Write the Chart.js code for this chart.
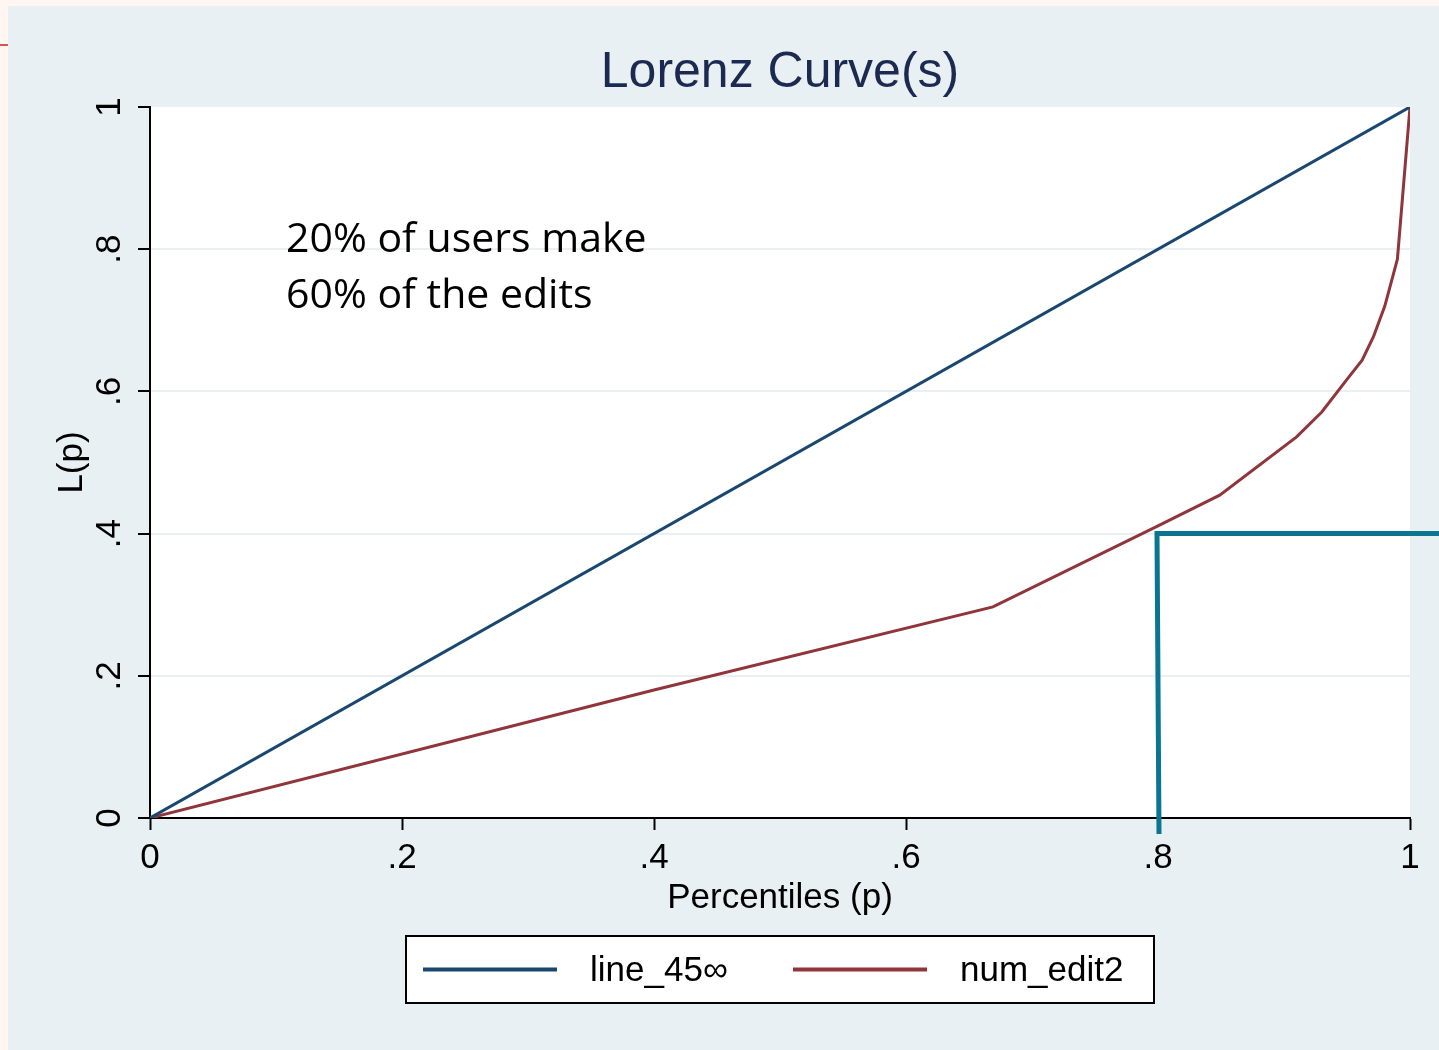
<!DOCTYPE html>
<html>
<head>
<meta charset="utf-8">
<title>Lorenz Curve(s)</title>
<script src="https://cdn.jsdelivr.net/npm/chart.js@4"></script>
<style>
  html, body { margin: 0; padding: 0; background: #fff6f2; }
  canvas { display: block; }
</style>
</head>
<body>
<canvas id="lorenzChart" width="1439" height="1050"></canvas>
<script>
// Data
const equalityP = [0, 1];
const equalityL = [0, 1];
const editsP = [0, 0.4, 0.669, 0.8, 0.849, 0.91, 0.93, 0.95, 0.962, 0.971, 0.98, 0.99, 1];
const editsL = [0, 0.18, 0.297, 0.411, 0.454, 0.536, 0.571, 0.617, 0.644, 0.677, 0.72, 0.786, 1];

const tickValues = [0, 0.2, 0.4, 0.6, 0.8, 1];
const tickLabels = ['0', '.2', '.4', '.6', '.8', '1'];

const seriesNames = ['line_45\u221E', 'num_edit2'];
const noteLines = ['20% of users make', '60% of the edits'];
const bracketP = 0.8;
const bracketL = 0.4;

const SANS = '"Liberation Sans", Arial, Helvetica, sans-serif';

function toPoints(xs, ys) {
    return xs.map((x, i) => ({ x: x, y: ys[i] }));
}

// Background, titles, rotated tick labels, note, bracket and legend box
const stataLook = {
    id: 'stataLook',
    beforeDraw(chart) {
        const ctx = chart.ctx;
        const area = chart.chartArea;
        ctx.save();
        ctx.fillStyle = '#fff6f2';
        ctx.fillRect(0, 0, chart.width, chart.height);
        ctx.fillStyle = '#e8f0f3';
        ctx.fillRect(8, 6, chart.width - 8, chart.height - 6);
        ctx.fillStyle = '#d9534f';
        ctx.fillRect(0, 44, 8, 2);
        ctx.fillStyle = '#ffffff';
        ctx.fillRect(area.left, area.top, area.right - area.left, area.bottom - area.top);
        ctx.restore();
    },
    afterDraw(chart) {
        const ctx = chart.ctx;
        const area = chart.chartArea;
        const xs = chart.scales.x;
        const ys = chart.scales.y;
        const midX = (area.left + area.right) / 2;
        const midY = (area.top + area.bottom) / 2;

        ctx.save();

        // title
        ctx.fillStyle = '#1c2a52';
        ctx.font = '50px ' + SANS;
        ctx.textAlign = 'center';
        ctx.textBaseline = 'middle';
        ctx.fillText('Lorenz Curve(s)', midX, 73);

        // tick labels
        ctx.fillStyle = '#000000';
        ctx.font = '35px ' + SANS;
        tickValues.forEach((v, i) => {
            ctx.fillText(tickLabels[i], xs.getPixelForValue(v), area.bottom + 40);

            ctx.save();
            ctx.translate(area.left - 40, ys.getPixelForValue(v));
            ctx.rotate(-Math.PI / 2);
            ctx.fillText(tickLabels[i], 0, 0);
            ctx.restore();
        });

        // axis titles
        ctx.fillText('Percentiles (p)', midX, area.bottom + 80);
        ctx.save();
        ctx.translate(72, midY);
        ctx.rotate(-Math.PI / 2);
        ctx.fillText('L(p)', 0, 0);
        ctx.restore();

        // note
        ctx.font = '41px "Open Sans", Lato, sans-serif';
        ctx.textAlign = 'left';
        ctx.textBaseline = 'alphabetic';
        ctx.fillText(noteLines[0], area.left + 136, 252);
        ctx.fillText(noteLines[1], area.left + 136, 308);

        // bracket at (.8, .4)
        const bx = xs.getPixelForValue(bracketP);
        const by = ys.getPixelForValue(bracketL);
        ctx.strokeStyle = '#0b7590';
        ctx.lineWidth = 5;
        ctx.lineJoin = 'miter';
        ctx.beginPath();
        ctx.moveTo(bx + 1, area.bottom + 16);
        ctx.lineTo(bx - 1, by);
        ctx.lineTo(chart.width, by);
        ctx.stroke();

        // legend box
        const lx = 406, ly = 936, lw = 748, lh = 67;
        ctx.fillStyle = '#ffffff';
        ctx.fillRect(lx, ly, lw, lh);
        ctx.strokeStyle = '#000000';
        ctx.lineWidth = 2;
        ctx.strokeRect(lx, ly, lw, lh);
        const keyY = ly + lh / 2;
        const slots = [lx + 17, lx + 387];
        chart.data.datasets.forEach((ds, i) => {
            ctx.strokeStyle = ds.borderColor;
            ctx.lineWidth = 4;
            ctx.beginPath();
            ctx.moveTo(slots[i], keyY);
            ctx.lineTo(slots[i] + 134, keyY);
            ctx.stroke();
            ctx.fillStyle = '#000000';
            ctx.font = '35px ' + SANS;
            ctx.textBaseline = 'middle';
            ctx.fillText(ds.label, slots[i] + 167, keyY + 2);
        });

        ctx.restore();
    }
};

const gridColor = c => (c.tick && c.tick.value > 0.01 && c.tick.value < 0.99) ? '#e8f0f3' : 'rgba(0,0,0,0)';

new Chart(document.getElementById('lorenzChart'), {
    type: 'line',
    data: {
        datasets: [{
            label: seriesNames[0],
            data: toPoints(equalityP, equalityL),
            borderColor: '#1a476f',
            borderWidth: 3,
            pointRadius: 0,
            tension: 0
        }, {
            label: seriesNames[1],
            data: toPoints(editsP, editsL),
            borderColor: '#90353b',
            borderWidth: 3,
            pointRadius: 0,
            tension: 0
        }]
    },
    options: {
        responsive: false,
        animation: false,
        layout: {
            padding: { left: 138, top: 107, right: 29, bottom: 220 }
        },
        scales: {
            x: {
                type: 'linear',
                min: 0,
                max: 1,
                ticks: { stepSize: 0.2, display: false },
                grid: {
                    drawOnChartArea: false,
                    drawTicks: true,
                    tickLength: 12,
                    tickWidth: 2,
                    tickColor: '#000000'
                },
                border: { display: true, color: '#000000', width: 2 }
            },
            y: {
                type: 'linear',
                min: 0,
                max: 1,
                ticks: { stepSize: 0.2, display: false },
                grid: {
                    color: gridColor,
                    lineWidth: 2,
                    drawTicks: true,
                    tickLength: 12,
                    tickWidth: 2,
                    tickColor: '#000000'
                },
                border: { display: true, color: '#000000', width: 2 }
            }
        },
        plugins: {
            legend: { display: false },
            title: { display: false },
            tooltip: { enabled: false }
        }
    },
    plugins: [stataLook]
});
</script>
</body>
</html>
